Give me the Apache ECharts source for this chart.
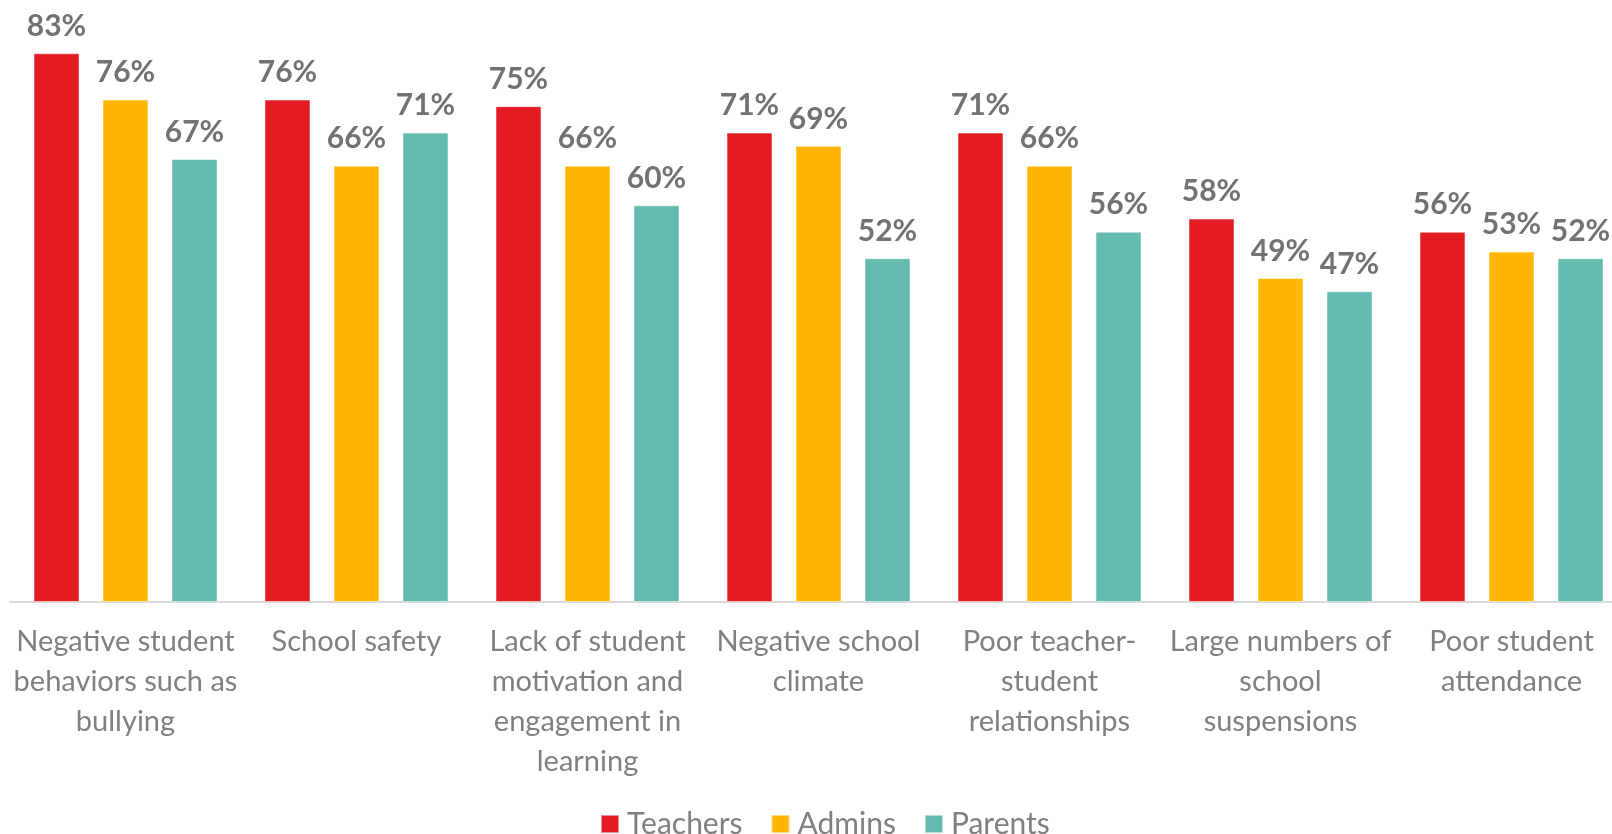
<!DOCTYPE html>
<html>
<head>
<meta charset="utf-8">
<script src="https://cdn.jsdelivr.net/npm/echarts@6/dist/echarts.min.js"></script>
<style>
html,body{margin:0;padding:0;background:#fff;overflow:hidden;width:1612px;height:834px;}
#chart{width:1640px;height:834px;}
</style>
</head>
<body>
<div id="chart"></div>
<script>
const categories = [
  "Negative student\nbehaviors such as\nbullying",
  "School safety",
  "Lack of student\nmotivation and\nengagement in\nlearning",
  "Negative school\nclimate",
  "Poor teacher-\nstudent\nrelationships",
  "Large numbers of\nschool\nsuspensions",
  "Poor student\nattendance"
];
const seriesNames = ["Teachers", "Admins", "Parents"];
const teachers = [83, 76, 75, 71, 71, 58, 56];
const admins   = [76, 66, 66, 69, 66, 49, 53];
const parents  = [67, 71, 60, 52, 56, 47, 52];
const colors = ["#E31B23", "#FFB600", "#63BAAE"];

const FONT = "Lato, 'Open Sans', sans-serif";
const chart = echarts.init(document.getElementById('chart'), null, {renderer: 'canvas'});

function mkSeries(name, data, color) {
  return {
    name: name,
    type: 'bar',
    data: data,
    barWidth: 46,
    barGap: '50%',
    itemStyle: { color: color, borderColor: 'rgba(255,255,255,0.5)', borderWidth: 1 },
    label: {
      show: true,
      position: 'top',
      distance: 12,
      formatter: '{c}%',
      color: '#727272',
      fontFamily: FONT,
      fontWeight: 'bold',
      fontSize: 30
    }
  };
}

chart.setOption({
  animation: false,
  backgroundColor: '#ffffff',
  grid: { left: 10, width: 1617, top: 7, bottom: 232, containLabel: false },
  legend: {
    data: seriesNames,
    bottom: -5,
    left: 600,
    padding: 0,
    itemWidth: 18,
    itemHeight: 18,
    itemGap: 28,
    icon: 'rect',
    textStyle: { color: '#808080', fontFamily: FONT, fontSize: 30, padding: [0,0,0,3] }
  },
  xAxis: {
    type: 'category',
    data: categories,
    axisLine: { show: true, lineStyle: { color: '#d9d9d9', width: 2 } },
    axisTick: { show: false },
    axisLabel: {
      interval: 0,
      margin: 20,
      color: '#808080',
      fontFamily: FONT,
      fontSize: 29,
      lineHeight: 40,
      align: 'center'
    }
  },
  yAxis: {
    type: 'value',
    min: 0,
    max: 90,
    show: false,
    splitLine: { show: false }
  },
  series: [
    mkSeries(seriesNames[0], teachers, colors[0]),
    mkSeries(seriesNames[1], admins, colors[1]),
    mkSeries(seriesNames[2], parents, colors[2])
  ]
});
</script>
</body>
</html>
